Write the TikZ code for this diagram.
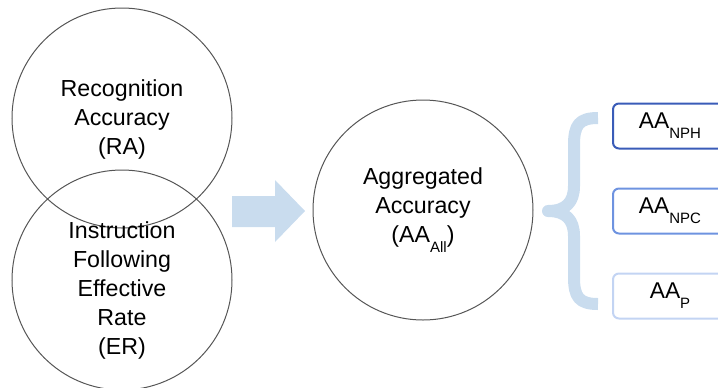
\documentclass[tikz,border=0pt]{standalone}
\usepackage{fontspec}
\setmainfont{Liberation Sans}
\definecolor{paleblue}{HTML}{C9DCEE}
\definecolor{darkblue}{HTML}{3A5CB8}
\definecolor{midblue}{HTML}{6E93E0}
\definecolor{lightblue}{HTML}{C3D4F3}
\definecolor{ringgray}{HTML}{555555}
\newcommand{\lowtxt}[1]{\raisebox{-0.85ex}{\fontsize{7.5}{8}\selectfont #1}}
\tikzset{
  ring/.style = {circle, draw = ringgray, line width = 0.5pt, minimum size = 110pt, inner sep = 0pt},
  lbl/.style = {align = center, font = \fontsize{11.6}{14.5}\selectfont},
  subbox/.style = {rounded corners = 3pt, line width = 1pt, minimum width = 57pt, minimum height = 22.5pt, inner sep = 0pt, font = \fontsize{11.4}{13}\selectfont}
}
\begin{document}
\begin{tikzpicture}[x = 0.5pt, y = -0.5pt]
                \useasboundingbox (0, 0) rectangle (718, 387);
                \node [ring] (ra) at (122, 118) {};
                \node [ring] (er) at (122, 280) {};
                \node [lbl] (ratext) at (122, 119) {Recognition\\Accuracy\\(RA)};
                \node [lbl] (ertext) at (122, 290) {Instruction\\Following\\Effective\\Rate\\(ER)};
                \fill [paleblue] (232, 196) -- (275, 196) -- (275, 180) -- (305, 211) -- (275, 242) -- (275, 227) -- (232, 227) -- cycle;
                \node [ring, lbl] (aa) at (423, 210) {Aggregated\\Accuracy\\(AA\lowtxt{All})};
                \draw [paleblue, line width = 6pt, line join = round] (598, 118) .. controls (579, 118) and (574, 125) .. (574, 145) -- (574, 186) .. controls (574, 202) and (566, 211) .. (548, 211) .. controls (566, 211) and (574, 220) .. (574, 236) -- (574, 277) .. controls (574, 297) and (579, 304) .. (598, 304);
                \node [subbox, draw = darkblue] (nph) at (670, 126) {AA\lowtxt{NPH}};
                \node [subbox, draw = midblue] (npc) at (670, 211) {AA\lowtxt{NPC}};
                \node [subbox, draw = lightblue] (p) at (670, 296) {AA\lowtxt{P}};
            \end{tikzpicture}
\end{document}
